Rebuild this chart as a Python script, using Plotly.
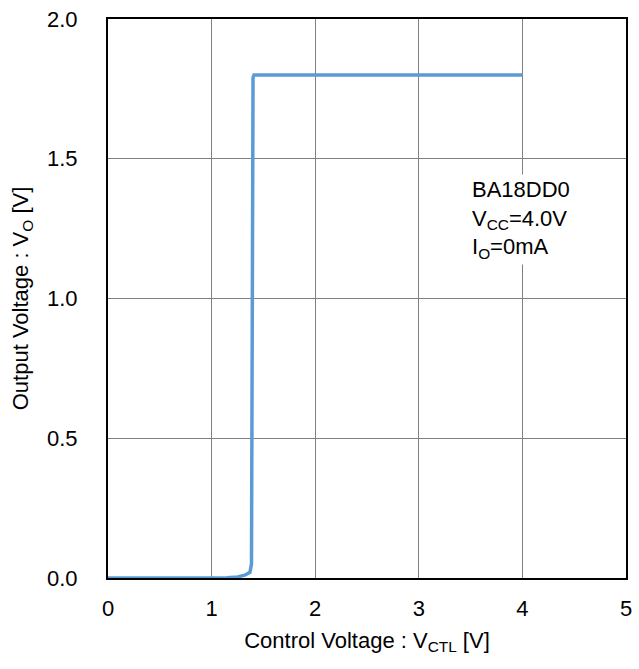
import plotly.graph_objects as go

vctl = [0.0, 1.0, 1.15, 1.25, 1.32, 1.37, 1.385, 1.40, 1.41, 4.0]
vout = [0.0, 0.0, 0.001, 0.004, 0.01, 0.02, 0.05, 1.79, 1.80, 1.80]

x_ticks = [0, 1, 2, 3, 4, 5]
y_ticks = [0.0, 0.5, 1.0, 1.5, 2.0]
y_tick_text = ["0.0", "0.5", "1.0", "1.5", "2.0"]

font = "Liberation Sans, Arial, sans-serif"
fs = 22

fig = go.Figure()
fig.add_trace(go.Scatter(x=vctl, y=vout, mode="lines",
                         line=dict(color="#5B9BD5", width=3.5, shape="linear"),
                         showlegend=False, hoverinfo="skip"))

fig.add_annotation(x=3.48, y=1.445, xref="x", yref="y", xanchor="left", yanchor="top",
                   text="BA18DD0<br>V<sub>CC</sub>=4.0V<br>I<sub>O</sub>=0mA",
                   showarrow=False, align="left", bgcolor="white", borderpad=2,
                   font=dict(family=font, size=fs, color="black"))

fig.update_layout(
    width=639, height=669,
    margin=dict(l=108, r=7, t=18, b=91),
    paper_bgcolor="white", plot_bgcolor="white",
    font=dict(family=font, size=fs, color="black"),
)
fig.update_xaxes(range=[0, 5], tickvals=x_ticks, showgrid=True, gridcolor="#808080", gridwidth=1,
                 showline=True, linecolor="black", linewidth=2, mirror=True,
                 zeroline=False, ticks="", ticklabelstandoff=10,
                 tickfont=dict(family=font, size=fs),
                 title=dict(text="Control Voltage : V<sub>CTL</sub> [V]", standoff=12,
                            font=dict(family=font, size=fs)))
fig.update_yaxes(range=[0, 2], tickvals=y_ticks, ticktext=y_tick_text, showgrid=True,
                 gridcolor="#808080", gridwidth=1,
                 showline=True, linecolor="black", linewidth=2, mirror=True,
                 zeroline=False, ticks="", ticklabelstandoff=24,
                 tickfont=dict(family=font, size=fs),
                 title=dict(text="Output Voltage : V<sub>O</sub> [V]", standoff=12,
                            font=dict(family=font, size=fs)))

fig.write_html("out.html")
